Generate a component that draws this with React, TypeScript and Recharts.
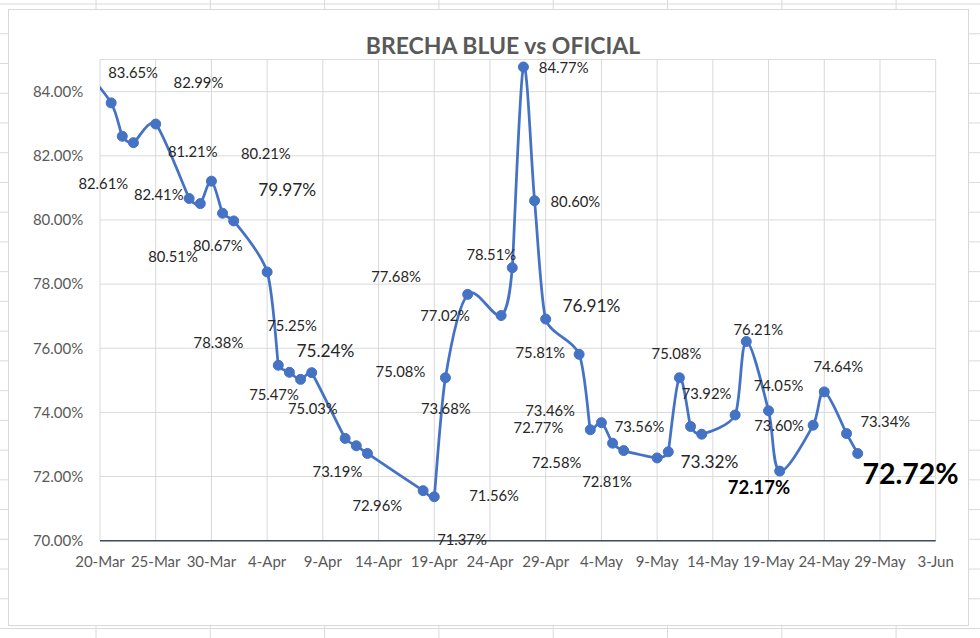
import React from 'react';
import { LineChart, Line, XAxis, YAxis, CartesianGrid, LabelList } from 'recharts';

// ---- data ----
const dates = [
  '18-Mar', '21-Mar', '22-Mar', '23-Mar', '25-Mar', '28-Mar', '29-Mar', '30-Mar', '31-Mar', '1-Apr',
  '4-Apr', '5-Apr', '6-Apr', '7-Apr', '8-Apr', '11-Apr', '12-Apr', '13-Apr', '18-Apr', '19-Apr',
  '20-Apr', '22-Apr', '25-Apr', '26-Apr', '27-Apr', '28-Apr', '29-Apr', '2-May', '3-May', '4-May',
  '5-May', '6-May', '9-May', '10-May', '11-May', '12-May', '13-May', '16-May', '17-May', '19-May',
  '20-May', '23-May', '24-May', '26-May', '27-May',
];
const brecha = [
  84.98, 83.65, 82.61, 82.41, 82.99, 80.67, 80.51, 81.21, 80.21, 79.97,
  78.38, 75.47, 75.25, 75.03, 75.24, 73.19, 72.96, 72.72, 71.56, 71.37,
  75.08, 77.68, 77.02, 78.51, 84.77, 80.6, 76.91, 75.81, 73.46, 73.68,
  73.04, 72.81, 72.58, 72.77, 75.08, 73.56, 73.32, 73.92, 76.21, 74.05,
  72.17, 73.6, 74.64, 73.34, 72.72,
];
const xTickLabels = [
  '20-Mar', '25-Mar', '30-Mar', '4-Apr', '9-Apr', '14-Apr', '19-Apr', '24-Apr',
  '29-Apr', '4-May', '9-May', '14-May', '19-May', '24-May', '29-May', '3-Jun',
];
const yTicks = [70, 72, 74, 76, 78, 80, 82, 84];
const TITLE = 'BRECHA BLUE vs OFICIAL';

// ---- label placement (dx, dy, fontSize, bold) relative to each point ----
type LS = [number, number, number, boolean] | null;
const labelStyle: LS[] = [
  null, [22, -31, 14.8, false], [-19, 46.7, 14.8, false], [25.3, 51.8, 14.8, false], [42.7, -41.7, 14.8, false],
  [28.7, 46.7, 14.8, false], [-27.3, 52, 14.8, false], [-18.7, -30, 14.8, false], [43.3, -60, 14.8, false], [53.5, -31, 17.3, false],
  [-48.7, 69.7, 14.8, false], [-4.3, 28.7, 14.8, false], [2.7, -47, 14.8, false], [12.3, 29, 14.8, false], [13.7, -22.5, 17.3, false],
  [-7.7, 32.3, 14.8, false], [21, 59, 14.8, false], null, [71, 4, 14.8, false], [27.7, 42.7, 14.8, false],
  [-45, -6.8, 14.8, false], [-71.7, -18.7, 14.8, false], [-56, -0.7, 14.8, false], [-21, -14, 14.8, false], [40.3, 0, 14.8, false],
  [40.8, 0, 14.8, false], [45.7, -13.3, 17.3, false], [-38.8, -2.7, 14.8, false], [-40.2, -19.3, 14.8, false], [-155.6, -14.3, 14.8, false],
  null, [-16.7, 30, 14.8, false], [-100.6, 4, 14.8, false], [-129.8, -24.7, 14.8, false], [-3, -25, 14.8, false],
  [-51, -0.7, 14.8, false], [7.7, 27.3, 17.3, false], [-28.6, -22, 14.8, false], [12, -12.7, 14.8, false], [10, -26, 14.8, false],
  [-20.7, 16.3, 18.5, true], [-34, 0, 14.8, false], [14, -26, 14.8, false], [38.7, -12.7, 14.8, false], [52.8, 20, 28.5, true],
];

const MONTH_START: Record<string, number> = { Mar: -20, Apr: 11, May: 41, Jun: 72 };
const dayIndex = (s: string) => {
  const [d, m] = s.split('-');
  return MONTH_START[m] + Number(d);
};

const data = dates.map((d, i) => ({ day: dayIndex(d), v: brecha[i] }));
const xTicks = xTickLabels.map(dayIndex);
const tickLabelByDay: Record<number, string> = {};
xTickLabels.forEach((l) => (tickLabelByDay[dayIndex(l)] = l));

// Excel-like smoothed line: Catmull-Rom Bezier with control handles limited
// by the neighbouring segment lengths (avoids overshoot at sharp turns)
function excelCurve(context: any) {
  let pts: number[][] = [];
  const dist = (a: number[], b: number[]) => Math.hypot(b[0] - a[0], b[1] - a[1]);
  const tangent = (i: number) => {
    const n = pts.length;
    const p0 = pts[Math.max(i - 1, 0)];
    const p1 = pts[i];
    const p2 = pts[Math.min(i + 1, n - 1)];
    const d02 = dist(p0, p2);
    if (d02 === 0) return [0, 0];
    let f = 1 / 6;
    const d01 = dist(p0, p1);
    const d12 = dist(p1, p2);
    const m = Math.min(d01 || Infinity, d12 || Infinity);
    if (isFinite(m)) f = Math.min(f, m / (3 * d02));
    return [(p2[0] - p0[0]) * f, (p2[1] - p0[1]) * f];
  };
  return {
    areaStart() {},
    areaEnd() {},
    lineStart() {
      pts = [];
    },
    point(x: number, y: number) {
      pts.push([+x, +y]);
    },
    lineEnd() {
      const n = pts.length;
      if (!n) return;
      context.moveTo(pts[0][0], pts[0][1]);
      const tans = pts.map((_, i) => tangent(i));
      for (let i = 0; i < n - 1; i++) {
        const p1 = pts[i];
        const p2 = pts[i + 1];
        context.bezierCurveTo(
          p1[0] + tans[i][0],
          p1[1] + tans[i][1],
          p2[0] - tans[i + 1][0],
          p2[1] - tans[i + 1][1],
          p2[0],
          p2[1]
        );
      }
    },
  };
}

const FONT = 'Lato, "Open Sans", sans-serif';
const BLUE = '#4472C4';

const renderLabel = (props: any) => {
  const idx = props.index;
  const s = labelStyle[idx];
  if (!s) return null;
  const px = props.x ?? props.viewBox?.x;
  const py = props.y ?? props.viewBox?.y;
  if (px == null || py == null) return null;
  return (
    <text
      key={`lbl-${idx}`}
      x={px + s[0]}
      y={py + s[1]}
      textAnchor="middle"
      dominantBaseline="central"
      fontSize={s[2]}
      fontWeight={s[3] ? 700 : 400}
      fill={s[3] ? '#000000' : '#262626'}
      fontFamily={FONT}
    >
      {Number(props.value).toFixed(2)}%
    </text>
  );
};

const W = 980;
const H = 638;

function Background() {
  const cols = [96, 210.3, 324.6, 438.9, 553.2, 667.5, 781.8, 896.1];
  const rows: number[] = [];
  for (let k = 0; k <= 21; k++) rows.push(4 + 29.74 * k);
  return (
    <svg width={W} height={H} style={{ position: 'absolute', left: 0, top: 0 }}>
      <rect x={0} y={0} width={W} height={H} fill="#ffffff" />
      {rows.map((y) => (
        <line key={`r${y}`} x1={0} x2={W} y1={y} y2={y} stroke="#DADADA" strokeWidth={1} />
      ))}
      {cols.map((x) => (
        <line key={`c${x}`} x1={x} x2={x} y1={0} y2={H} stroke="#DADADA" strokeWidth={1} />
      ))}
      <rect x={8.5} y={9.5} width={960} height={616} fill="#ffffff" stroke="#D9D9D9" strokeWidth={1} />
    </svg>
  );
}

export default function App() {
  return (
    <div style={{ position: 'absolute', left: 0, top: 0, width: W, height: H, background: '#fff' }}>
      <Background />
      <div
        style={{
          position: 'absolute',
          left: 0,
          width: 1006,
          top: 32,
          lineHeight: '26px',
          textAlign: 'center',
          fontFamily: FONT,
          fontWeight: 700,
          fontSize: 23,
          color: '#595959',
        }}
      >
        {TITLE}
      </div>
      <div style={{ position: 'absolute', left: 0, top: 0 }}>
        <LineChart width={W} height={H} data={data} margin={{ top: 59.6, right: 44.3, bottom: 67.3, left: 10 }}>
          <CartesianGrid stroke="#D9D9D9" strokeWidth={1} horizontal vertical />
          <XAxis
            type="number"
            dataKey="day"
            domain={[0, 75]}
            allowDataOverflow
            ticks={xTicks}
            interval={0}
            tickFormatter={(v: number) => tickLabelByDay[v] ?? ''}
            tickLine={false}
            tickSize={0}
            tickMargin={16}
            height={30}
            axisLine={{ stroke: '#3F4B63', strokeWidth: 1.5 }}
            tick={{ fill: '#595959', fontSize: 15, fontFamily: FONT }}
          />
          <YAxis
            type="number"
            domain={[70, 85]}
            allowDataOverflow
            ticks={yTicks}
            interval={0}
            tickFormatter={(v: number) => `${v.toFixed(2)}%`}
            tickLine={false}
            axisLine={false}
            tickSize={0}
            tickMargin={16.7}
            width={90}
            tick={{ fill: '#595959', fontSize: 15, fontFamily: FONT }}
          />
          <Line
            dataKey="v"
            type={excelCurve as any}
            stroke={BLUE}
            strokeWidth={2.75}
            dot={{ r: 5, fill: BLUE, stroke: BLUE, strokeWidth: 1 }}
            activeDot={false}
            isAnimationActive={false}
          >
            <LabelList dataKey="v" content={renderLabel} />
          </Line>
        </LineChart>
      </div>
    </div>
  );
}
